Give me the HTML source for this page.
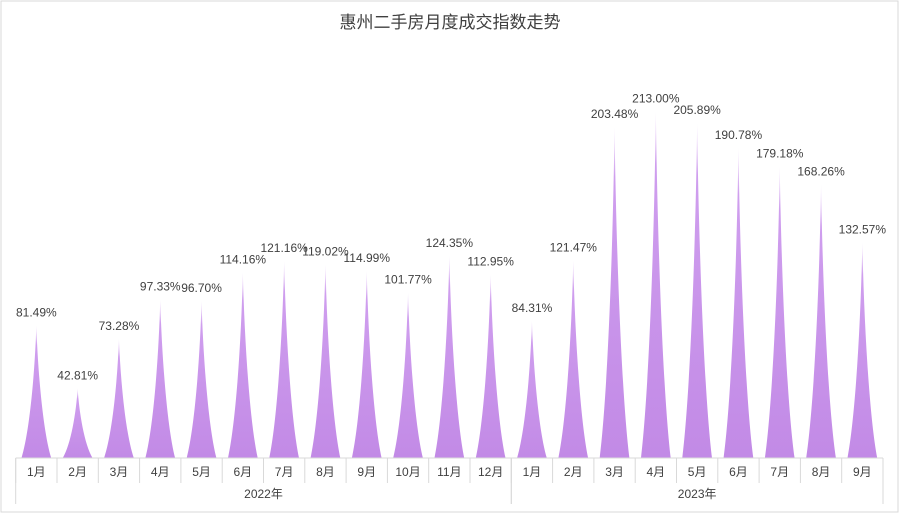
<!DOCTYPE html>
<html><head><meta charset="utf-8"><style>
body{margin:0;background:#fff;}
svg{display:block;font-family:"Liberation Sans","Noto Sans CJK SC",sans-serif;}
</style></head><body>
<svg id="chart" width="900" height="514">
<defs>
<linearGradient id="g" x1="0" y1="0" x2="0" y2="1">
<stop offset="0" stop-color="#f4e8fb"/><stop offset="0.15" stop-color="#cf9eee"/><stop offset="1" stop-color="#c28ae6"/>
</linearGradient>
</defs>
<rect x="1" y="1" width="897" height="511" fill="#fff" stroke="#d9d9d9"/>
<text x="450" y="28" text-anchor="middle" font-size="17" fill="#404040">惠州二手房月度成交指数走势</text>
<g id="marks"></g>
</svg>
<script>
const months=["1月","2月","3月","4月","5月","6月","7月","8月","9月","10月","11月","12月","1月","2月","3月","4月","5月","6月","7月","8月","9月"];
const values=[81.49,42.81,73.28,97.33,96.70,114.16,121.16,119.02,114.99,101.77,124.35,112.95,84.31,121.47,203.48,213.00,205.89,190.78,179.18,168.26,132.57];
const years=["2022年","2023年"];
const yearCounts=[12,9];
const NS="http://www.w3.org/2000/svg";
const g=document.getElementById('marks');
const x0=15.7,band=41.3,base=458,k=1.626;
const xs=i=>x0+i*band;
const ys=v=>base-v*k;
function el(t,a){const e=document.createElementNS(NS,t);for(const n in a)e.setAttribute(n,a[n]);g.appendChild(e);return e;}
values.forEach((v,i)=>{
 const c=xs(i)+band/2,w=band*0.36,t=ys(v),h=base-t;
 const p=el('path',{d:`M${c-w},${base} C${c-w*0.45},${base-h*0.2} ${c-1.5},${t+h*0.35} ${c},${t} C${c+1.5},${t+h*0.35} ${c+w*0.45},${base-h*0.2} ${c+w},${base} Z`,fill:'url(#g)'});
 
 
 const l=el('text',{x:c,y:t-9,'text-anchor':'middle','font-size':12,fill:'#404040'});
 l.textContent=v.toFixed(2)+'%';
 
 
 const m=el('text',{x:c,y:476,'text-anchor':'middle','font-size':12,fill:'#404040'});
 m.textContent=months[i];
 
 
});
const ax=el('line',{x1:x0,y1:base,x2:xs(months.length),y2:base,stroke:'#d9d9d9'});


for(let i=0;i<=months.length;i++){
 const tk=el('line',{x1:xs(i),y1:base,x2:xs(i),y2:483,stroke:'#d9d9d9'});
 
 
}
let s=0;
years.forEach((y,j)=>{
 const e=s+yearCounts[j];
 [s,e].forEach(b=>{const ln=el('line',{x1:xs(b),y1:base,x2:xs(b),y2:504,stroke:'#d9d9d9'});
  
  });
 const t=el('text',{x:(xs(s)+xs(e))/2,y:498,'text-anchor':'middle','font-size':12,fill:'#404040'});
 t.textContent=y;
 
 
 s=e;
});
</script>
</body></html>
